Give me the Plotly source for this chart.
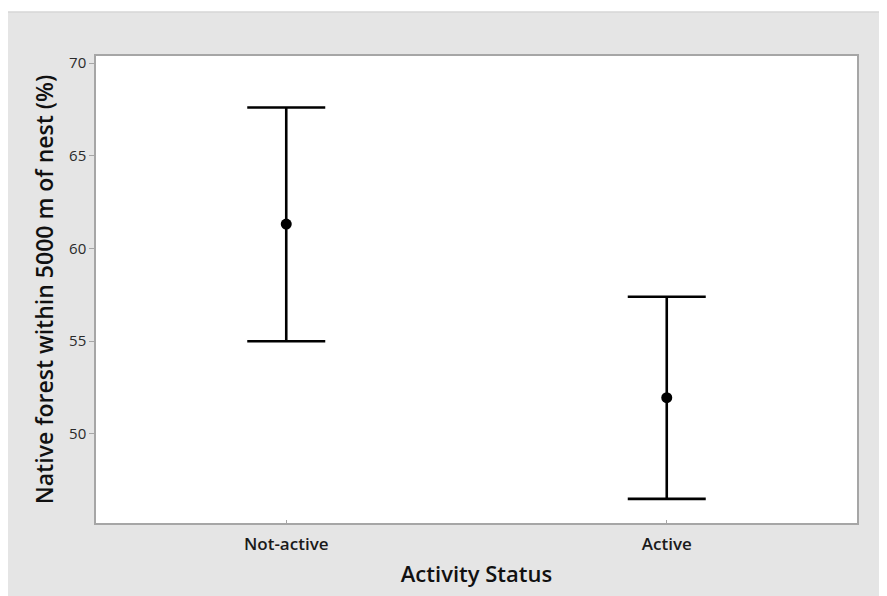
import plotly.graph_objects as go

categories = ["Not-active", "Active"]
means = [61.32, 51.96]
upper = [67.6, 57.4]
lower = [55.0, 46.5]

err_plus = [u - m for u, m in zip(upper, means)]
err_minus = [m - l for m, l in zip(means, lower)]

fig = go.Figure()
fig.add_trace(go.Scatter(
    x=[0, 1], y=means, mode="markers",
    marker=dict(color="black", size=11),
    error_y=dict(type="data", array=err_plus, arrayminus=err_minus,
                 color="black", thickness=2.6, width=39, symmetric=False),
    showlegend=False,
))

font = "'Open Sans', sans-serif"
W, H = 879, 588
L, R, T, B = 88, 30, 48, 73
pw, ph = W - L - R, H - T - B
fig.update_layout(
    width=W, height=H,
    paper_bgcolor="#e5e5e5", plot_bgcolor="white",
    margin=dict(l=L, r=R, t=T, b=B),
    shapes=[dict(type="rect", xref="paper", yref="paper", layer="below",
                 x0=-L / pw, x1=1 + R / pw, y0=1 + (T - 4) / ph, y1=1 + T / ph,
                 fillcolor="white", line=dict(width=0)),
            dict(type="line", xref="paper", yref="paper", layer="below",
                 x0=-L / pw, x1=1 + R / pw, y0=1 + (T - 4) / ph, y1=1 + (T - 4) / ph,
                 line=dict(color="#d6d6d6", width=1.5))],
    xaxis=dict(range=[-0.5, 1.5], tickvals=[0, 1], ticktext=categories,
               showgrid=False, zeroline=False, showline=True, mirror=True,
               linecolor="#a6a6a6", linewidth=1.5,
               ticks="inside", ticklen=3, tickcolor="#a6a6a6",
               ticklabelstandoff=5,
               tickfont=dict(family=font, size=17, color="#1a1a1a", weight=600),
               title=dict(text="Activity Status", font=dict(family=font, size=22, color="#111", weight=600),
                          standoff=12)),
    yaxis=dict(range=[45.2, 70.38], tickvals=[50, 55, 60, 65, 70],
               showgrid=False, zeroline=False, showline=True, mirror=True,
               linecolor="#a6a6a6", linewidth=1.5,
               ticks="outside", ticklen=5, tickcolor="#a6a6a6",
               tickfont=dict(family=font, size=15, color="#2a2a2a"),
               title=dict(text="Native forest within 5000 m of nest (%)",
                          font=dict(family=font, size=23, color="#111", weight=600), standoff=9)),
)
fig.write_html("out.html")
